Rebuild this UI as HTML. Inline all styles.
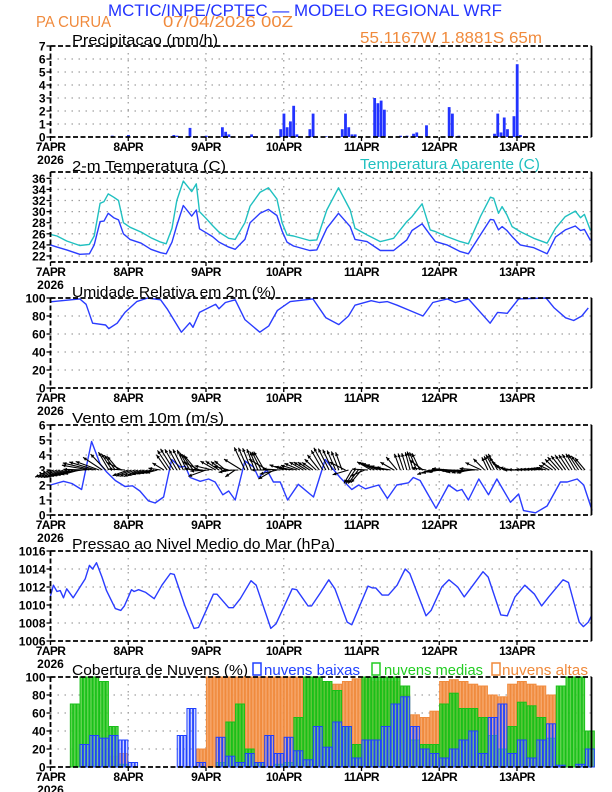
<!DOCTYPE html>
<html><head><meta charset="utf-8"><title>Meteograma WRF - PA CURUA</title>
<style>
html,body{margin:0;padding:0;background:#fff;}
svg{display:block;font-family:"Liberation Sans",sans-serif;}
</style></head>
<body>
<svg id="chart" width="612" height="792" viewBox="0 0 612 792" xmlns="http://www.w3.org/2000/svg">
  <rect x="0" y="0" width="612" height="792" fill="#fff"/>
  <text x="108" y="16" fill="#2233ff" font-size="17" textLength="394" lengthAdjust="spacingAndGlyphs">MCTIC/INPE/CPTEC — MODELO REGIONAL WRF</text>
  <text x="36" y="27" fill="#f08a3c" font-size="16" textLength="75" lengthAdjust="spacingAndGlyphs">PA CURUA</text>
  <text x="163" y="27" fill="#f08a3c" font-size="16" textLength="130" lengthAdjust="spacingAndGlyphs">07/04/2026 00Z</text>
  <text x="360" y="43" fill="#f08a3c" font-size="16" textLength="182" lengthAdjust="spacingAndGlyphs">55.1167W 1.8881S 65m</text>
  <text x="72" y="45" fill="#000" font-size="15" textLength="146" lengthAdjust="spacingAndGlyphs">Precipitacao (mm/h)</text>
  <text x="72" y="171" fill="#000" font-size="15" textLength="154" lengthAdjust="spacingAndGlyphs">2-m Temperatura (C)</text>
  <text x="360" y="169" fill="#20c0c0" font-size="15" textLength="180" lengthAdjust="spacingAndGlyphs">Temperatura Aparente (C)</text>
  <text x="72" y="297" fill="#000" font-size="15" textLength="204" lengthAdjust="spacingAndGlyphs">Umidade Relativa em 2m (%)</text>
  <text x="72" y="423" fill="#000" font-size="15" textLength="152" lengthAdjust="spacingAndGlyphs">Vento em 10m (m/s)</text>
  <text x="72" y="549" fill="#000" font-size="15" textLength="263" lengthAdjust="spacingAndGlyphs">Pressao ao Nivel Medio do Mar (hPa)</text>
  <text x="72" y="675" fill="#000" font-size="15" textLength="176" lengthAdjust="spacingAndGlyphs">Cobertura de Nuvens (%)</text>
  <rect x="253" y="663" width="8" height="12" fill="none" stroke="#2040ff" stroke-width="1.5"/>
  <text x="264" y="675" fill="#2040ff" font-size="15" textLength="96" lengthAdjust="spacingAndGlyphs">nuvens baixas</text>
  <rect x="372" y="663" width="8" height="12" fill="none" stroke="#22cc22" stroke-width="1.5"/>
  <text x="384" y="675" fill="#22cc22" font-size="15" textLength="99" lengthAdjust="spacingAndGlyphs">nuvens medias</text>
  <rect x="492" y="663" width="8" height="12" fill="none" stroke="#f08a3c" stroke-width="1.5"/>
  <text x="502" y="675" fill="#f08a3c" font-size="15" textLength="86" lengthAdjust="spacingAndGlyphs">nuvens altas</text>
</svg>
<script>
// ---------- DATA ----------
const dayLabels = ["7APR","8APR","9APR","10APR","11APR","12APR","13APR"];
const yearLabel = "2026";

const rainHours = [19,24,38,39,43,48,53,54,55,62,71,72,73,74,75,76,80,81,85,90,91,92,93,94,100,101,102,103,108,110,112,113,116,123,124,126,137,138,139,140,141,143,144,145];
const rainVals  = [0.1,0.15,0.15,0.1,0.7,0.1,0.75,0.4,0.2,0.2,0.6,1.8,0.75,1.2,2.4,0.2,0.6,1.8,0.05,0.6,1.8,0.75,0.2,0.2,3.0,2.6,2.8,2.1,0.1,0.1,0.25,0.35,0.9,2.3,1.8,0.1,0.25,1.8,0.35,1.5,0.6,1.6,5.6,0.15];

const tHours = [0,2,5,9,12,13.5,15.3,16.5,17.8,19.5,21,22.5,24.5,28,31,34,35.7,37.5,39,41,43.6,45,46,48,50,52,55,57,58,60,61.6,64.7,67.3,69.9,71.5,73,75,80,82.2,85.3,88.9,92.5,94,97.7,101.8,105.9,110,111.6,114.7,117.2,118.8,122.4,126.5,129,132.7,135.8,136.8,138.3,139.4,140.9,142.5,145,149.2,153.3,155.9,158.9,162,163.6,164.8,166.7];
const tempVals = [24.0,23.6,23.1,22.3,22.4,24.0,28.2,28.3,29.7,28.9,28.5,26.0,25.0,24.3,23.2,22.6,22.4,24.5,27.5,31.1,29.2,30.3,26.9,26.2,25.5,24.5,23.6,23.2,23.8,25.0,28.0,29.7,30.4,29.3,26.5,24.5,23.8,23.0,23.1,27.0,29.7,27.3,25.0,24.6,23.0,23.0,24.9,26.6,27.8,25.8,24.6,24.0,22.8,22.4,25.8,28.6,28.5,26.7,27.3,26.6,25.5,24.0,23.5,22.4,25.4,26.7,27.4,26.6,26.8,24.8];
const appVals  = [25.9,25.6,24.7,23.9,24.1,25.6,31.5,31.8,33.2,32.6,32.0,28.0,27.2,26.3,25.3,24.5,24.2,27.0,32.0,35.5,33.6,35.0,30.0,28.8,27.5,26.3,25.2,25.0,26.0,28.0,31.0,33.5,34.3,32.3,28.0,25.8,25.6,24.8,24.9,30.3,34.3,30.3,27.0,25.8,24.6,25.2,28.2,29.1,31.4,26.7,26.4,25.5,24.6,24.2,29.1,32.6,32.4,29.7,30.9,29.4,27.3,26.4,25.2,24.3,27.0,29.1,30.1,28.9,29.5,26.6];

const rhHours = [0,9,11,13,17,18,20.6,23,26.6,30,34,36,40.4,43,44,46,51,52,54,57,60,64.6,67.4,70,74,81,85,89,92,94,99,101.5,104,107,111,115,118,122.5,125,129,135.7,138,141,144.5,153,155.5,159,161.5,164,166];
const rhVals  = [95.8,99,93,72,70,66,72,84,96,100,98,88,62,72.5,67.5,84,93,88,95,98,76,62,69,86,96,99,78,70.5,80,92,97,95,96,92,86,80,95,99,95,99,72,84,83,99,100,89,78,75,80,89];

const wHours = [0,4,6.6,9.6,12.7,15.3,17.4,20,23,25.3,27.6,30.2,32.3,34.9,37.4,40,41.6,43.1,46.2,48.8,50.8,53.2,55,57,60,62.7,64.2,66.8,68.8,70.9,73.2,76.5,81.2,84.8,89.4,93,95.1,97.2,101.3,104,106.9,110.5,112,114.1,116.2,119,122.9,125.5,127,129,132.2,135.2,137.8,142,144.5,146,149.7,153.3,157.4,159.5,162.6,164.6,167.2];
const wVals  = [2.0,2.25,2.1,1.7,4.9,3.4,2.85,2.3,1.9,1.95,1.6,0.95,0.8,1.2,3.7,3.2,3.25,2.5,2.25,2.4,2.2,1.35,1.6,1.0,3.6,3.2,2.5,3.0,2.2,2.2,1.0,2.05,1.2,3.7,2.5,1.7,2.0,1.75,2.0,1.1,2.0,2.15,2.5,2.3,1.5,0.45,2.0,1.6,1.7,1.0,2.4,1.35,2.4,0.85,1.4,0.3,0.15,0.6,2.2,2.2,2.4,2.0,0.3];
// wind arrow pointing direction (deg, math convention) every 3 h
const windDir = [205,205,200,195,170,160,120,130,200,205,200,195,125,120,115,130,200,150,140,215,115,110,120,210,160,170,150,145,120,115,110,240,230,150,160,170,110,105,115,200,190,175,185,195,175,115,120,160,180,175,170,165,135,125,120,130];

const presHours = [0,0.9,2,3,4,5,7,10.7,12,13,14.2,15.9,17.3,20,21.7,22.8,25,25.8,27.2,29.4,32,34.4,37,38.2,41.5,44.3,45.7,50.3,51.4,55,56.4,58.6,61.9,63.5,68,69.6,74.6,76,79.5,80.6,83.4,85.9,87.8,91.6,93,98,99.3,100.4,102.4,104.3,107,109.5,110.9,115.9,117.5,120.8,123,125.7,127.7,129.6,133.5,135.1,139,141,143.4,146.4,149.4,151.6,153.8,158.2,159.9,163.2,164.5,166,167];
const presVals  = [1011.0,1012.2,1011.5,1011.6,1010.8,1011.8,1010.8,1012.9,1014.4,1014.0,1014.7,1013.1,1011.6,1009.6,1009.4,1009.9,1011.7,1011.5,1011.7,1011.4,1010.7,1012.2,1013.5,1013.4,1009.9,1007.4,1007.5,1011.2,1011.2,1009.7,1009.7,1010.7,1012.7,1012.2,1007.4,1007.9,1011.8,1011.7,1009.9,1009.9,1011.4,1012.8,1011.8,1008.1,1007.8,1012.1,1011.9,1011.9,1011.1,1011.1,1012.2,1014.0,1013.5,1008.8,1009.4,1012.0,1012.8,1012.0,1010.9,1011.8,1013.7,1013.1,1008.9,1008.8,1010.9,1012.2,1011.2,1009.9,1010.9,1012.8,1012.5,1008.1,1007.6,1008.1,1008.8];

// cloud cover (%) every 3 h
const lowVals  = [0,0,0,25,35,32,35,30,5,0,0,0,0,35,65,5,0,33,12,5,15,5,35,15,33,18,8,45,22,50,45,10,30,30,45,70,78,45,20,15,10,20,30,40,15,55,70,15,30,10,30,48,2,0,3,20];
const midVals  = [0,0,70,100,100,95,45,3,0,0,0,0,0,0,0,0,0,5,50,70,20,5,0,3,5,55,100,100,95,85,45,25,100,100,100,100,90,30,25,25,70,82,65,65,55,35,20,45,72,68,55,32,90,100,100,40];
const highVals = [0,0,0,0,0,0,12,15,0,0,0,0,0,0,0,20,100,100,100,100,100,100,100,100,100,100,100,100,95,92,95,98,97,95,95,95,80,58,55,62,95,97,95,92,90,80,78,92,95,92,90,80,0,0,0,0];

const precipTicks = ["0","1","2","3","4","5","6","7"];
const tempTicks = ["22","24","26","28","30","32","34","36"];
const rhTicks = ["0","20","40","60","80","100"];
const windTicks = ["0","1","2","3","4","5","6"];
const presTicks = ["1006","1008","1010","1012","1014","1016"];
const cloudTicks = ["0","20","40","60","80","100"];

// ---------- RENDER ----------
const svg = document.getElementById('chart');
const NS = 'http://www.w3.org/2000/svg';
const X0 = 50.5, X1 = 591.5, HMAX = 167;
function x(h){ return X0 + h * (X1 - X0) / HMAX; }
function mk(tag, attrs){ const e = document.createElementNS(NS, tag); for (const k in attrs) e.setAttribute(k, attrs[k]); svg.appendChild(e); return e; }
function yScale(p){ return v => p.bot - (v - p.min) * (p.bot - p.top) / (p.max - p.min); }

const panels = {
  precip: {top:46, bot:137, min:0, max:7, ticks:precipTicks, name:'precip'},
  temp:   {top:172, bot:262, min:20.92, max:37.14, ticks:tempTicks, name:'temp'},
  rh:     {top:298, bot:388, min:0, max:100, ticks:rhTicks, name:'humidity'},
  wind:   {top:425, bot:515, min:0, max:6, ticks:windTicks, name:'wind'},
  pres:   {top:551, bot:641, min:1006, max:1016, ticks:presTicks, name:'pressure'},
  cloud:  {top:677, bot:767, min:0, max:100, ticks:cloudTicks, name:'cloud'}
};

function drawAxes(p){
  const y = yScale(p);
  p.ticks.forEach(t => {
    const v = parseFloat(t), yy = y(v);
    if (yy > p.top + 1 && yy < p.bot - 1) {
      const g = mk('line', {x1:X0, x2:X1, y1:yy, y2:yy, stroke:'#a0a0a0', 'stroke-width':1.3, 'stroke-dasharray':'1.5,5.5'});
      
      
    }
    const tk = mk('line', {x1:X0-4, x2:X0, y1:yy, y2:yy, stroke:'#000', 'stroke-width':1.3});
    
    
    const lb = mk('text', {x:X0-5, y:yy+4.5, 'text-anchor':'end', 'font-size':12, 'font-weight':'bold', fill:'#000'});
    lb.textContent = t;
    
    
  });
  dayLabels.forEach((d, i) => {
    const xx = x(i * 24);
    if (i > 0) {
      const g = mk('line', {x1:xx, x2:xx, y1:p.top, y2:p.bot, stroke:'#a0a0a0', 'stroke-width':1.3, 'stroke-dasharray':'1.5,5.5'});
      
      
    }
    const tk = mk('line', {x1:xx, x2:xx, y1:p.bot, y2:p.bot+4, stroke:'#000', 'stroke-width':1.3});
    
    
    const lb = mk('text', {x:xx, y:p.bot+14, 'text-anchor':'middle', 'font-size':12, 'font-weight':'bold', fill:'#000', 'letter-spacing':'-0.6'});
    lb.textContent = d;
    
    
  });
  const yr = mk('text', {x:X0, y:p.bot+27, 'text-anchor':'middle', 'font-size':12, 'font-weight':'bold', fill:'#000'});
  yr.textContent = yearLabel;
  
  
}
function drawFrame(p){
  const dash = {stroke:'#000', 'stroke-width':1.8, 'stroke-dasharray':'5,2.5'};
  const t = mk('line', Object.assign({x1:X0, x2:X1, y1:p.top, y2:p.top}, dash));
  
  
  const l = mk('line', Object.assign({x1:X0, x2:X0, y1:p.top, y2:p.bot}, dash));
  
  
  const b = mk('line', Object.assign({x1:X0, x2:X1, y1:p.bot, y2:p.bot}, dash));
  
  
  const r = mk('line', {x1:X1, x2:X1, y1:p.top, y2:p.bot, stroke:'#000', 'stroke-width':1.8});
  
  
}
function drawLine(p, hours, vals, color, name){
  const y = yScale(p);
  const d = hours.map((h, i) => (i ? 'L' : 'M') + x(h).toFixed(1) + ',' + y(vals[i]).toFixed(1)).join('');
  const e = mk('path', {d:d, fill:'none', stroke:color, 'stroke-width':1.4, 'stroke-linejoin':'round'});
  
  
}
function interp(hours, vals, h){
  if (h <= hours[0]) return vals[0];
  for (let i = 1; i < hours.length; i++) if (h <= hours[i]) { const f = (h - hours[i-1]) / (hours[i] - hours[i-1]); return vals[i-1] + f * (vals[i] - vals[i-1]); }
  return vals[vals.length - 1];
}

Object.values(panels).forEach(drawAxes);

// precipitation bars
(function(){
  const p = panels.precip, y = yScale(p);
  rainHours.forEach((h, i) => {
    const b = mk('rect', {x:x(h)-1.2, y:y(rainVals[i]), width:2.8, height:p.bot - y(rainVals[i]), fill:'#2233ff'});
    
    
  });
})();

drawLine(panels.temp, tHours, appVals, '#20c0c0', 'apparent-temp-line');
drawLine(panels.temp, tHours, tempVals, '#2a3cff', 'temp-line');
drawLine(panels.rh, rhHours, rhVals, '#2a3cff', 'humidity-line');
drawLine(panels.wind, wHours, wVals, '#2a3cff', 'wind-speed-line');

// wind arrows (hourly, direction interpolated between 3-hourly entries)
(function(){
  const p = panels.wind, y = yScale(p), y0 = y(3);
  for (let h = 0; h <= 165; h++) {
    const i = Math.floor(h / 3), f = (h % 3) / 3;
    const d1 = windDir[i], d2 = windDir[Math.min(i + 1, windDir.length - 1)];
    const dir = d1 + f * (d2 - d1);
    const sp = interp(wHours, wVals, h);
    const len = 7 + 5 * sp;
    const a = dir * Math.PI / 180;
    const x0 = x(h), x2 = x0 + len * Math.cos(a), y2 = y0 - len * Math.sin(a);
    const s = mk('line', {x1:x0, y1:y0, x2:x2, y2:y2, stroke:'#000', 'stroke-width':1.1});
    
    
    const hl = 4, ha = 0.45;
    const p1x = x2 - hl * Math.cos(a - ha), p1y = y2 + hl * Math.sin(a - ha);
    const p2x = x2 - hl * Math.cos(a + ha), p2y = y2 + hl * Math.sin(a + ha);
    const hd = mk('polygon', {points: x2+','+y2+' '+p1x+','+p1y+' '+p2x+','+p2y, fill:'#000'});
    
    
  }
})();

drawLine(panels.pres, presHours, presVals, '#2a3cff', 'pressure-line');

// cloud bars (each 3-h value drawn as three hourly bars)
(function(){
  const p = panels.cloud, y = yScale(p);
  const layers = [
    {vals: highVals, fill: '#f5a264', stroke: '#f08a3c', op: 0.95, name: 'cloud-high-bar'},
    {vals: midVals,  fill: '#44cc33', stroke: '#18c018', op: 0.85, name: 'cloud-mid-bar'},
    {vals: lowVals,  fill: '#8da0ff', stroke: '#2040ff', op: 0.4, name: 'cloud-low-bar'}
  ];
  layers.forEach(L => {
    L.vals.forEach((v, i) => {
      if (v <= 0) return;
      for (let k = 0; k < 3; k++) {
        const h = i * 3 + k;
        const x0 = x(h) + 0.4, w = x(h + 1) - x(h) - 0.8;
        const r = mk('rect', {x:x0, y:y(v), width:w, height:p.bot - y(v), fill:L.fill, 'fill-opacity':L.op, stroke:L.stroke, 'stroke-width':1});
        
        
      }
    });
  });
})();

Object.values(panels).forEach(drawFrame);
</script>
</body></html>
